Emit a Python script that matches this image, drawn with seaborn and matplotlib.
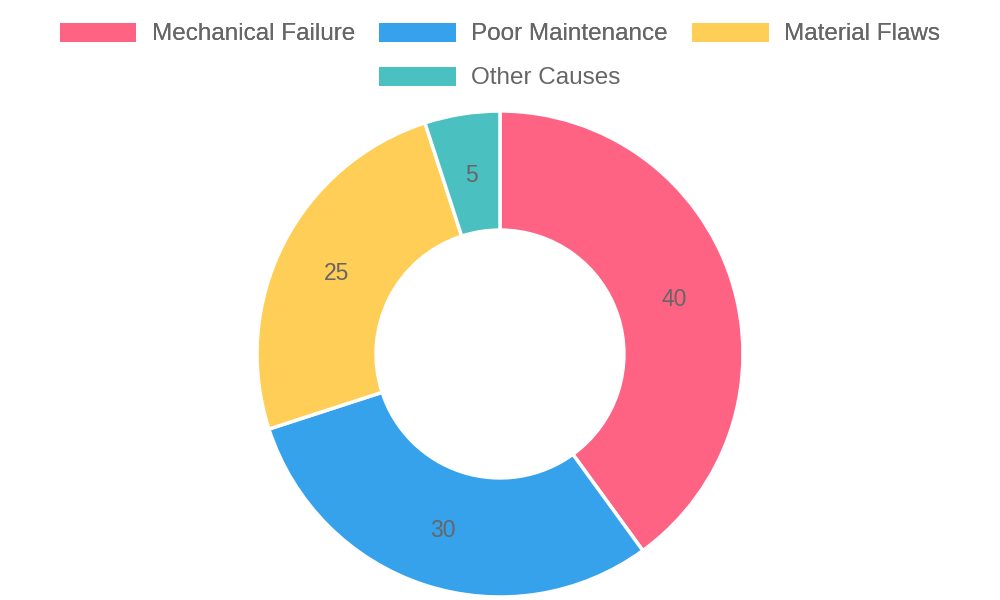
import matplotlib
matplotlib.use("Agg")
import matplotlib.pyplot as plt
import seaborn as sns
from matplotlib.patches import Patch

categories = ["Mechanical Failure", "Poor Maintenance", "Material Flaws", "Other Causes"]
values = [40, 30, 25, 5]
colors = ["#FF6384", "#36A2EB", "#FFCE56", "#4BC0C0"]

sns.set_theme(style="white")
plt.rcParams['font.family'] = ['Liberation Sans', 'DejaVu Sans']

fig = plt.figure(figsize=(10, 6), dpi=100)
fig.patch.set_facecolor("white")

cx, cy, r = 500, 354, 243
ax = fig.add_axes([(cx - r) / 1000, (600 - cy - r) / 600, 2 * r / 1000, 2 * r / 600])
ax.axis("off")

total = sum(values)
wedges, texts, autotexts = ax.pie(
    values, colors=colors, startangle=90, counterclock=False, radius=1,
    wedgeprops=dict(width=0.49, edgecolor="white", linewidth=2.5),
    autopct=lambda p: f"{round(p * total / 100)}", pctdistance=0.755,
    textprops=dict(color="#666666", fontsize=16.5, va="center_baseline"),
)
ax.set_xlim(-1, 1)
ax.set_ylim(-1, 1)

handles = [Patch(facecolor=c, edgecolor="none") for c in colors]
common = dict(frameon=False, fontsize=17.5, labelcolor="#666666",
              handlelength=76 / 24, handleheight=20 / 24, handletextpad=15 / 24,
              columnspacing=24 / 24, borderpad=0, borderaxespad=0, loc="center")
leg1 = fig.legend(handles[:3], categories[:3], ncol=3,
                  bbox_to_anchor=(0.5, 1 - 34 / 600), **common)
fig.add_artist(leg1)
leg2 = fig.legend(handles[3:], categories[3:], ncol=1,
                  bbox_to_anchor=(0.5, 1 - 78 / 600), **common)

fig.savefig("out.png", dpi=100, facecolor="white")
